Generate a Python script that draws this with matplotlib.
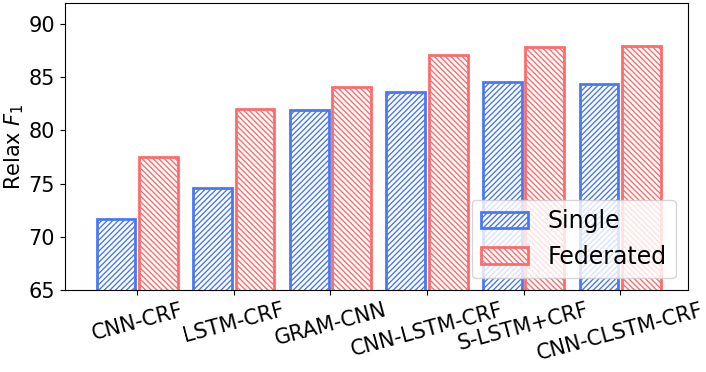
import numpy as np
import matplotlib
matplotlib.use('Agg')
from matplotlib import pyplot as plt

models = ['CNN-CRF', 'LSTM-CRF', 'GRAM-CNN', 'CNN-LSTM-CRF', 'S-LSTM+CRF', 'CNN-CLSTM-CRF']
single = [71.7, 74.6, 81.9, 83.6, 84.5, 84.4]
federated = [77.5, 82.0, 84.1, 87.1, 87.8, 87.9]

blue = '#4a78f5'
red = '#ff6b6b'

fig = plt.figure(figsize=(7.06, 3.72), dpi=100)
ax = fig.add_axes([0.092, 0.22, 0.882, 0.773])

x = np.arange(len(models))
w = 0.4
off = 0.22
ax.bar(x - off, single, w, color='white', edgecolor=blue,
       hatch='//////', linewidth=2, label='Single')
ax.bar(x + off, federated, w, color='white', edgecolor=red,
       hatch='\\\\\\\\\\\\', linewidth=2, label='Federated')

ax.set_ylim(65, 92)
ax.set_xlim(-0.75, 5.7)
ax.set_yticks([65, 70, 75, 80, 85, 90])
ax.set_xticks(x)
ax.set_xticklabels(models, rotation=15, fontsize=15)
ax.tick_params(axis='y', labelsize=15)
ax.set_ylabel('Relax $F_1$', fontsize=15, labelpad=2)
ax.legend(loc='lower right', fontsize=17, framealpha=0.8)

fig.savefig('out.png', dpi=100)
